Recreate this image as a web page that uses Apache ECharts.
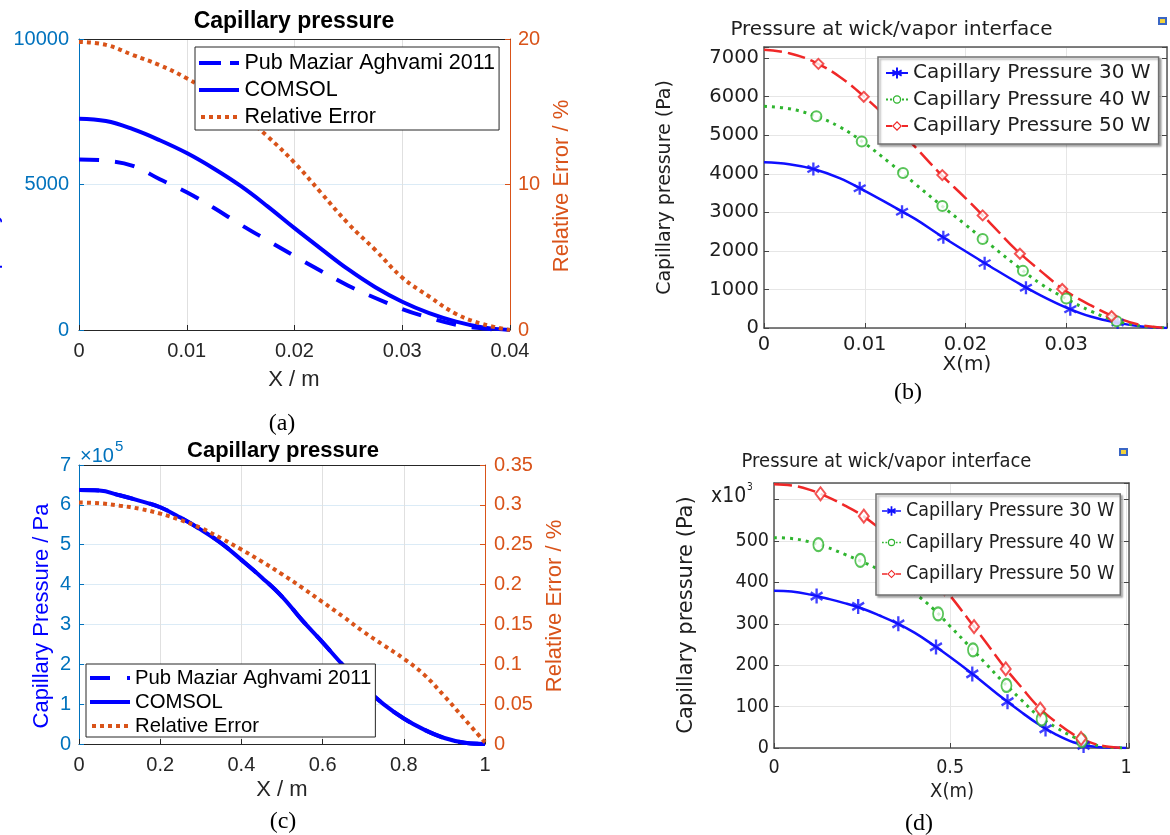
<!DOCTYPE html>
<html>
<head>
<meta charset="utf-8">
<script src="https://cdn.jsdelivr.net/npm/echarts@6/dist/echarts.min.js"></script>
<style>
  html, body { margin: 0; padding: 0; background: #ffffff; }
  #chart { width: 1170px; height: 835px; }
</style>
</head>
<body>
<div id="chart"></div>
<script>
// ---------- (a) capillary pressure along the wick, 0..0.04 m ----------
const xA = [0, 0.0025, 0.005, 0.0075, 0.01, 0.0125, 0.015, 0.0175, 0.02, 0.0225, 0.025, 0.0275, 0.03, 0.0325, 0.035, 0.0375, 0.04];
const pubA = [5860, 5820, 5640, 5180, 4730, 4200, 3620, 3080, 2540, 2020, 1520, 1100, 720, 420, 180, 50, 0];
const comsolA = [7260, 7180, 6900, 6520, 6080, 5550, 4950, 4250, 3500, 2780, 2080, 1470, 970, 580, 290, 90, 0];
const errA = [19.8, 19.6, 18.9, 18.2, 17.3, 16.2, 14.9, 13.3, 11.5, 9.4, 7.3, 5.5, 3.6, 2.3, 1.1, 0.4, 0];

// ---------- (b) pressure at wick/vapor interface, 0..0.04 m ----------
const xB = [0, 0.0025, 0.005, 0.0075, 0.01, 0.0125, 0.015, 0.0175, 0.02, 0.0225, 0.025, 0.0275, 0.03, 0.0325, 0.035, 0.0375, 0.04];
const p30B = [4300, 4250, 4120, 3890, 3560, 3200, 2830, 2400, 1990, 1590, 1200, 840, 530, 290, 140, 40, 0];
const p40B = [5750, 5690, 5510, 5220, 4790, 4280, 3740, 3200, 2680, 2150, 1630, 1140, 760, 430, 180, 50, 0];
const p50B = [7220, 7130, 6900, 6520, 5990, 5380, 4700, 4000, 3370, 2710, 2035, 1470, 950, 580, 270, 70, 0];
const m30xB = [0.0049, 0.0095, 0.0137, 0.0178, 0.0219, 0.0260, 0.0304, 0.0351];
const m30yB = [4124, 3627, 3017, 2354, 1683, 1046, 488, 140];
const m40xB = [0.0052, 0.0097, 0.0138, 0.0177, 0.0217, 0.0257, 0.0300, 0.0350];
const m40yB = [5493, 4839, 4019, 3165, 2310, 1482, 767, 174];
const m50xB = [0.0054, 0.0099, 0.0140, 0.0177, 0.0217, 0.0254, 0.0296, 0.0345];
const m50yB = [6853, 5998, 4960, 3967, 2921, 1927, 1011, 305];

// ---------- (c) capillary pressure along the wick, 0..1 m (x 1e5 Pa) ----------
const xC = [0, 0.05, 0.1, 0.15, 0.2, 0.25, 0.3, 0.35, 0.4, 0.45, 0.5, 0.55, 0.6, 0.65, 0.7, 0.75, 0.8, 0.85, 0.9, 0.95, 1];
const pubC = [6.37, 6.36, 6.24, 6.1, 5.94, 5.68, 5.38, 5.04, 4.62, 4.18, 3.7, 3.1, 2.55, 1.98, 1.45, 1.0, 0.64, 0.36, 0.15, 0.03, 0];
const comsolC = [6.37, 6.36, 6.24, 6.1, 5.94, 5.68, 5.38, 5.04, 4.62, 4.18, 3.7, 3.1, 2.55, 1.98, 1.45, 1.0, 0.64, 0.36, 0.15, 0.03, 0];
const errC = [0.303, 0.302, 0.299, 0.295, 0.289, 0.281, 0.271, 0.258, 0.244, 0.229, 0.213, 0.196, 0.178, 0.16, 0.141, 0.124, 0.107, 0.087, 0.06, 0.031, 0.002];

// ---------- (d) pressure at wick/vapor interface, 0..1 m (x 1e3 Pa) ----------
const xD = [0, 0.05, 0.1, 0.15, 0.2, 0.25, 0.3, 0.35, 0.4, 0.45, 0.5, 0.55, 0.6, 0.65, 0.7, 0.75, 0.8, 0.85, 0.9, 0.95, 1];
const p30D = [380, 378, 371, 361, 350, 337, 320, 301, 278, 250, 220, 188, 154, 120, 88, 58, 33, 14, 4, 1, 0];
const p40D = [508, 506, 498, 485, 468, 450, 430, 404, 373, 338, 294, 250, 205, 160, 118, 78, 50, 27, 10, 2, 0];
const p50D = [637, 634, 624, 607, 586, 562, 530, 497, 460, 418, 368, 313, 257, 200, 149, 100, 63, 33, 13, 3, 0];
const m30xD = [0.121, 0.239, 0.353, 0.460, 0.563, 0.663, 0.771, 0.879];
const m30yD = [367, 342, 300, 244, 179, 112, 46, 6];
const m40xD = [0.126, 0.245, 0.361, 0.466, 0.565, 0.660, 0.760, 0.874];
const m40yD = [491, 453, 400, 324, 237, 151, 70, 18];
const m50xD = [0.132, 0.255, 0.374, 0.484, 0.568, 0.658, 0.756, 0.872];
const m50yD = [614, 560, 480, 385, 293, 191, 94, 23];

// tick labels shown on the COMSOL-style axes
const yTicksB = [0, 1000, 2000, 3000, 4000, 5000, 6000, 7000];
const xTicksB = [0, 0.01, 0.02, 0.03];
const yTicksD = [0, 100, 200, 300, 400, 500];
const xTicksD = [0, 0.5, 1];

const N_PUB = 'Pub Maziar Aghvami 2011';
const N_COM = 'COMSOL';
const N_ERR = 'Relative Error';
const N30 = 'Capillary Pressure 30 W';
const N40 = 'Capillary Pressure 40 W';
const N50 = 'Capillary Pressure 50 W';

const FM = '"Liberation Sans", Arial, Helvetica, sans-serif';
const FC = '"DejaVu Sans", Verdana, sans-serif';
const FD = '"DejaVu Sans Condensed", "DejaVu Sans", sans-serif';
const FS = '"Liberation Serif", "Times New Roman", serif';

const M_BLUE = '#0072BD';
const M_ORANGE = '#D95319';
const M_DARK = '#262626';
const C_BLUE = '#1010ff';
const C_GREEN = '#2fb52f';
const C_RED = '#f02828';

const pts = (xs, ys) => xs.map((x, i) => [x, ys[i]]);
const plain = v => String(Math.round(v * 1e6) / 1e6);

// one bar (rectangle) centred on (cx, cy), half-length L, half-thickness t, angle deg
function bar(cx, cy, L, t, deg) {
  const a = deg * Math.PI / 180;
  const dx = Math.cos(a), dy = Math.sin(a);
  const nx = -dy, ny = dx;
  const p = [
    [dx * L + nx * t, dy * L + ny * t],
    [dx * L - nx * t, dy * L - ny * t],
    [-dx * L - nx * t, -dy * L - ny * t],
    [-dx * L + nx * t, -dy * L + ny * t]
  ].map(q => (q[0] + cx).toFixed(2) + ',' + (q[1] + cy).toFixed(2));
  return 'M' + p[0] + 'L' + p[1] + 'L' + p[2] + 'L' + p[3] + 'Z';
}
// six-armed asterisk marker built from three crossing bars
function asterisk(cx, cy, L, t) {
  return [90, 30, 150].map(d => bar(cx, cy, L, t, d)).join('');
}
function ring(cx, cy, r1, r2) {
  return 'M' + (cx - r1) + ',' + cy + 'A' + r1 + ',' + r1 + ',0,1,1,' + (cx + r1) + ',' + cy +
    'A' + r1 + ',' + r1 + ',0,1,1,' + (cx - r1) + ',' + cy + 'Z' +
    'M' + (cx - r2) + ',' + cy + 'A' + r2 + ',' + r2 + ',0,1,0,' + (cx + r2) + ',' + cy +
    'A' + r2 + ',' + r2 + ',0,1,0,' + (cx - r2) + ',' + cy + 'Z';
}
function diamondRing(cx, cy, r1, r2) {
  return 'M' + cx + ',' + (cy - r1) + 'L' + (cx + r1) + ',' + cy + 'L' + cx + ',' + (cy + r1) + 'L' + (cx - r1) + ',' + cy + 'Z' +
    'M' + cx + ',' + (cy - r2) + 'L' + (cx - r2) + ',' + cy + 'L' + cx + ',' + (cy + r2) + 'L' + (cx + r2) + ',' + cy + 'Z';
}
const ASTER = 'path://' + asterisk(11, 11, 10, 1.7);

// legend samples for the COMSOL panels: line + marker in a 22 x 12 box
const LEG30 = 'path://' + bar(11, 6, 11, 0.9, 0) + asterisk(11, 6, 5.4, 1.0);
const LEG40 = 'path://' + 'M0,5h2v2h-2zM4,5h2v2h-2zM16,5h2v2h-2zM20,5h2v2h-2z' + ring(11, 6, 4.2, 2.9);
const LEG50 = 'path://' + 'M0,5.1h6v1.8h-6zM16,5.1h6v1.8h-6z' + diamondRing(11, 6, 5, 3.3);

// ---------- axes ----------
function matlabX(grid, max, interval) {
  return [
    { gridIndex: grid, type: 'value', min: 0, max: max, interval: interval,
      axisLine: { onZero: false, lineStyle: { color: M_DARK, width: 1 } },
      axisTick: { inside: true, length: 5, lineStyle: { color: M_DARK } },
      axisLabel: { color: M_DARK, fontSize: 20, fontFamily: FM, margin: 11, formatter: plain },
      splitLine: { show: true, lineStyle: { color: '#e0e0e0', width: 1 } } },
    { gridIndex: grid, type: 'value', position: 'top', min: 0, max: max, interval: interval,
      axisLine: { onZero: false, lineStyle: { color: M_DARK, width: 1 } },
      axisTick: { show: false }, axisLabel: { show: false }, splitLine: { show: false } }
  ];
}
function matlabY(grid, max, interval, rmax, rinterval, lmargin, rmargin) {
  return [
    { gridIndex: grid, type: 'value', position: 'left', min: 0, max: max, interval: interval,
      axisLine: { onZero: false, lineStyle: { color: M_BLUE, width: 1 } },
      axisTick: { inside: true, length: 5, lineStyle: { color: M_BLUE } },
      axisLabel: { color: M_BLUE, fontSize: 20, fontFamily: FM, margin: lmargin, formatter: plain },
      splitLine: { show: true, lineStyle: { color: 'rgba(0,114,189,0.14)', width: 1 } } },
    { gridIndex: grid, type: 'value', position: 'right', min: 0, max: rmax, interval: rinterval,
      axisLine: { onZero: false, lineStyle: { color: M_ORANGE, width: 1 } },
      axisTick: { inside: true, length: 5, lineStyle: { color: M_ORANGE } },
      axisLabel: { color: M_ORANGE, fontSize: 20, fontFamily: FM, margin: rmargin, formatter: plain },
      splitLine: { show: false } }
  ];
}
function comsolX(grid, max, interval, shown, font, margin) {
  return [
    { gridIndex: grid, type: 'value', min: 0, max: max, interval: interval,
      axisLine: { onZero: false, lineStyle: { color: '#555', width: 1.5 } },
      axisTick: { inside: true, length: 5, lineStyle: { color: '#444' } },
      axisLabel: { color: '#1e1e1e', fontSize: 19.5, fontFamily: font, margin: margin,
        formatter: v => shown.some(s => Math.abs(s - v) < 1e-9) ? plain(v) : '' },
      splitLine: { show: true, lineStyle: { color: '#e6e6e6', width: 1 } } },
    { gridIndex: grid, type: 'value', position: 'top', min: 0, max: max, interval: interval,
      axisLine: { onZero: false, lineStyle: { color: '#555', width: 1.5 } },
      axisTick: { show: false }, axisLabel: { show: false }, splitLine: { show: false } }
  ];
}
function comsolY(grid, max, interval, shown, font) {
  return [
    { gridIndex: grid, type: 'value', position: 'left', min: 0, max: max, interval: interval,
      axisLine: { onZero: false, lineStyle: { color: '#555', width: 1.5 } },
      axisTick: { inside: true, length: 5, lineStyle: { color: '#444' } },
      axisLabel: { color: '#1e1e1e', fontSize: 19.5, fontFamily: font, margin: 5,
        formatter: v => shown.indexOf(v) >= 0 ? plain(v) : '' },
      splitLine: { show: true, lineStyle: { color: '#e6e6e6', width: 1 } } },
    { gridIndex: grid, type: 'value', position: 'right', min: 0, max: max, interval: interval,
      axisLine: { onZero: false, lineStyle: { color: '#555', width: 1.5 } },
      axisTick: { inside: true, length: 5, lineStyle: { color: '#444' } },
      axisLabel: { show: false }, splitLine: { show: false } }
  ];
}

// ---------- series helpers ----------
function mline(name, xi, yi, data, color, type, z) {
  return { type: 'line', name: name, xAxisIndex: xi, yAxisIndex: yi, data: data,
    symbol: 'none', showSymbol: false, smooth: 0.4, z: z,
    lineStyle: { color: color, width: 4, type: type, cap: 'butt' },
    itemStyle: { color: color }, emphasis: { disabled: true }, silent: true };
}
function cline(name, xi, yi, data, color, width, type) {
  return { type: 'line', name: name, xAxisIndex: xi, yAxisIndex: yi, data: data,
    symbol: 'none', showSymbol: false, smooth: 0.4, z: 2,
    lineStyle: { color: color, width: width, type: type, cap: 'butt' },
    itemStyle: { color: color }, emphasis: { disabled: true }, silent: true };
}
function cmark(name, xi, yi, data, color, symbol, size) {
  const empty = symbol.indexOf('empty') === 0;
  return { type: 'scatter', name: name, xAxisIndex: xi, yAxisIndex: yi, data: data,
    symbol: symbol, symbolSize: size, z: 3,
    itemStyle: empty ? { color: color, borderColor: color, borderWidth: 1.6 } : { color: color, borderWidth: 0 },
    emphasis: { disabled: true }, silent: true };
}

// legend icons drawn as little bars (dash, solid, dotted)
const ICON_SOLID = 'path://M0,0h40v4h-40z';
const ICON_DASH_A = 'path://M0,0h22v4h-22zM31,0h9v4h-9z';
const ICON_DASH_C = 'path://M0,0h20v4h-20zM37,0h3v4h-3z';
const ICON_DOT = 'path://M0,0h4v4h-4zM8,0h4v4h-4zM16,0h4v4h-4zM24,0h4v4h-4zM32,0h4v4h-4z';

function comsolLegendData() {
  return [
    { name: N30, icon: LEG30, itemStyle: { color: C_BLUE, borderWidth: 0 } },
    { name: N40, icon: LEG40, itemStyle: { color: C_GREEN, borderWidth: 0 } },
    { name: N50, icon: LEG50, itemStyle: { color: C_RED, borderWidth: 0 } }
  ];
}

const option = {
  backgroundColor: '#ffffff',
  animation: false,
  grid: [
    { left: 79, top: 39, width: 431, height: 291 },
    { left: 764, top: 47, width: 403, height: 281 },
    { left: 79, top: 465, width: 406, height: 279 },
    { left: 774, top: 483, width: 355, height: 265 }
  ],
  xAxis: [].concat(
    matlabX(0, 0.04, 0.01),
    comsolX(1, 0.04, 0.01, xTicksB, FC, 7),
    matlabX(2, 1, 0.2),
    comsolX(3, 1.008, 0.5, xTicksD, FD, 10)
  ),
  yAxis: [].concat(
    matlabY(0, 10000, 5000, 20, 10, 10, 8),
    comsolY(1, 7290, 1000, yTicksB, FC),
    matlabY(2, 7, 1, 0.35, 0.05, 8, 9),
    comsolY(3, 640, 100, yTicksD, FD)
  ),
  legend: [
    { left: 195, top: 47, orient: 'vertical', selectedMode: false,
      itemWidth: 41, itemHeight: 4, itemGap: 5, padding: [5, 4, 2, 4],
      backgroundColor: '#ffffff', borderColor: M_DARK, borderWidth: 1,
      textStyle: { fontFamily: FM, fontSize: 21.5, lineHeight: 21, color: '#000' },
      data: [
        { name: N_PUB, icon: ICON_DASH_A, itemStyle: { color: '#0000ff', borderWidth: 0 } },
        { name: N_COM, icon: ICON_SOLID, itemStyle: { color: '#0000ff', borderWidth: 0 } },
        { name: N_ERR, icon: ICON_DOT, itemStyle: { color: M_ORANGE, borderWidth: 0 } }
      ] },
    { left: 878, top: 57, orient: 'vertical', selectedMode: false,
      itemWidth: 22, itemHeight: 12, itemGap: 6.5, padding: [6, 8, 8, 8],
      backgroundColor: '#ffffff', borderColor: '#707070', borderWidth: 1.5,
      shadowColor: 'rgba(0,0,0,0.3)', shadowBlur: 2, shadowOffsetX: 2, shadowOffsetY: 2,
      textStyle: { fontFamily: FC, fontSize: 20, lineHeight: 20, color: '#1e1e1e' },
      data: comsolLegendData() },
    { left: 86, top: 664, orient: 'vertical', selectedMode: false,
      itemWidth: 40, itemHeight: 4, itemGap: 4, padding: [4, 4, 1, 4],
      backgroundColor: '#ffffff', borderColor: M_DARK, borderWidth: 1,
      textStyle: { fontFamily: FM, fontSize: 20.3, lineHeight: 20, color: '#000' },
      data: [
        { name: N_PUB, icon: ICON_DASH_C, itemStyle: { color: '#0000ff', borderWidth: 0 } },
        { name: N_COM, icon: ICON_SOLID, itemStyle: { color: '#0000ff', borderWidth: 0 } },
        { name: N_ERR, icon: ICON_DOT, itemStyle: { color: M_ORANGE, borderWidth: 0 } }
      ] },
    { left: 876, top: 494, orient: 'vertical', selectedMode: false,
      itemWidth: 19, itemHeight: 12, itemGap: 11.5, padding: [7, 6, 11, 6],
      backgroundColor: '#ffffff', borderColor: '#707070', borderWidth: 1.5,
      shadowColor: 'rgba(0,0,0,0.3)', shadowBlur: 2, shadowOffsetX: 2, shadowOffsetY: 2,
      textStyle: { fontFamily: FD, fontSize: 19.5, lineHeight: 19, color: '#1e1e1e' },
      data: comsolLegendData() }
  ],
  series: [
    // (a)
    mline(N_PUB, 0, 0, pts(xA, pubA), '#0000ff', [20, 16], 2),
    mline(N_COM, 0, 0, pts(xA, comsolA), '#0000ff', 'solid', 2),
    mline(N_ERR, 0, 1, pts(xA, errA), M_ORANGE, [4, 4], 3),
    // (b)
    cline(N30, 2, 2, pts(xB, p30B), C_BLUE, 2.5, 'solid'),
    cline(N40, 2, 2, pts(xB, p40B), C_GREEN, 3, [3, 5]),
    cline(N50, 2, 2, pts(xB, p50B), C_RED, 2.5, [18, 6]),
    cmark(N30, 2, 2, pts(m30xB, m30yB), C_BLUE, ASTER, 13),
    cmark(N40, 2, 2, pts(m40xB, m40yB), C_GREEN, 'emptyCircle', 10),
    cmark(N50, 2, 2, pts(m50xB, m50yB), C_RED, 'emptyDiamond', 10),
    // (c)
    mline(N_PUB, 4, 4, pts(xC, pubC), '#0000ff', [20, 16], 2),
    mline(N_COM, 4, 4, pts(xC, comsolC), '#0000ff', 'solid', 2),
    mline(N_ERR, 4, 5, pts(xC, errC), M_ORANGE, [4, 4], 3),
    // (d)
    cline(N30, 6, 6, pts(xD, p30D), C_BLUE, 2.5, 'solid'),
    cline(N40, 6, 6, pts(xD, p40D), C_GREEN, 3, [3, 5]),
    cline(N50, 6, 6, pts(xD, p50D), C_RED, 2.5, [18, 6]),
    cmark(N30, 6, 6, pts(m30xD, m30yD), C_BLUE, ASTER, [13, 15]),
    cmark(N40, 6, 6, pts(m40xD, m40yD), C_GREEN, 'emptyCircle', [10, 13]),
    cmark(N50, 6, 6, pts(m50xD, m50yD), C_RED, 'emptyDiamond', [10, 13])
  ],
  graphic: [
    // (a) texts
    { type: 'text', x: 294, y: 22, style: { text: 'Capillary pressure', font: 'bold 23px ' + FM, fill: '#000', align: 'center', verticalAlign: 'middle' } },
    { type: 'text', x: 294, y: 380, style: { text: 'X / m', font: '22px ' + FM, fill: M_DARK, align: 'center', verticalAlign: 'middle' } },
    { type: 'text', x: 562, y: 186, rotation: Math.PI / 2, style: { text: 'Relative Error / %', font: '22px ' + FM, fill: M_ORANGE, align: 'center', verticalAlign: 'middle' } },
    { type: 'text', x: -9, y: 185, rotation: Math.PI / 2, style: { text: 'Capillary Pressure / Pa', font: '22px ' + FM, fill: '#0000ff', align: 'center', verticalAlign: 'middle' } },
    { type: 'text', x: 282, y: 424, style: { text: '(a)', font: '24px ' + FS, fill: '#000', align: 'center', verticalAlign: 'middle' } },
    // (b) texts
    { type: 'text', x: 891.5, y: 30, style: { text: 'Pressure at wick/vapor interface', font: '20px ' + FC, fill: '#1e1e1e', align: 'center', verticalAlign: 'middle' } },
    { type: 'text', x: 665, y: 187.5, rotation: Math.PI / 2, style: { text: 'Capillary pressure (Pa)', font: '19px ' + FC, fill: '#1e1e1e', align: 'center', verticalAlign: 'middle' } },
    { type: 'text', x: 967, y: 365, style: { text: 'X(m)', font: '20px ' + FC, fill: '#1e1e1e', align: 'center', verticalAlign: 'middle' } },
    { type: 'text', x: 908, y: 393, style: { text: '(b)', font: '24px ' + FS, fill: '#000', align: 'center', verticalAlign: 'middle' } },
    { type: 'rect', shape: { x: 1159, y: 18, width: 7, height: 6 }, style: { fill: '#f2d23c', stroke: '#3a66c4', lineWidth: 2 } },
    // (c) texts
    { type: 'text', x: 283, y: 451, style: { text: 'Capillary pressure', font: 'bold 22px ' + FM, fill: '#000', align: 'center', verticalAlign: 'middle' } },
    { type: 'text', x: 80, y: 456, style: { text: '\u00d710', font: '20px ' + FM, fill: M_BLUE, align: 'left', verticalAlign: 'middle' } },
    { type: 'text', x: 115, y: 447, style: { text: '5', font: '15px ' + FM, fill: M_BLUE, align: 'left', verticalAlign: 'middle' } },
    { type: 'text', x: 42, y: 616, rotation: Math.PI / 2, style: { text: 'Capillary Pressure / Pa', font: '22px ' + FM, fill: '#0000ff', align: 'center', verticalAlign: 'middle' } },
    { type: 'text', x: 554.5, y: 606, rotation: Math.PI / 2, style: { text: 'Relative Error / %', font: '22px ' + FM, fill: M_ORANGE, align: 'center', verticalAlign: 'middle' } },
    { type: 'text', x: 282, y: 790, style: { text: 'X / m', font: '22px ' + FM, fill: M_DARK, align: 'center', verticalAlign: 'middle' } },
    { type: 'text', x: 283, y: 822, style: { text: '(c)', font: '24px ' + FS, fill: '#000', align: 'center', verticalAlign: 'middle' } },
    // (d) texts
    { type: 'text', x: 886.5, y: 462, style: { text: 'Pressure at wick/vapor interface', font: '20px ' + FD, fill: '#1e1e1e', align: 'center', verticalAlign: 'middle' } },
    { type: 'text', x: 711, y: 497, style: { text: 'x10', font: '21px ' + FD, fill: '#1e1e1e', align: 'left', verticalAlign: 'middle' } },
    { type: 'text', x: 747, y: 487, style: { text: '3', font: '10px ' + FD, fill: '#1e1e1e', align: 'left', verticalAlign: 'middle' } },
    { type: 'text', x: 687, y: 615, rotation: Math.PI / 2, style: { text: 'Capillary pressure (Pa)', font: '21px ' + FC, fill: '#1e1e1e', align: 'center', verticalAlign: 'middle' } },
    { type: 'text', x: 952, y: 792, style: { text: 'X(m)', font: '20px ' + FD, fill: '#1e1e1e', align: 'center', verticalAlign: 'middle' } },
    { type: 'text', x: 919, y: 824, style: { text: '(d)', font: '24px ' + FS, fill: '#000', align: 'center', verticalAlign: 'middle' } },
    { type: 'rect', shape: { x: 1120, y: 449, width: 7, height: 6 }, style: { fill: '#f2d23c', stroke: '#3a66c4', lineWidth: 2 } }
  ]
};

const chart = echarts.init(document.getElementById('chart'), null, { renderer: 'canvas' });
chart.setOption(option);
</script>
</body>
</html>
